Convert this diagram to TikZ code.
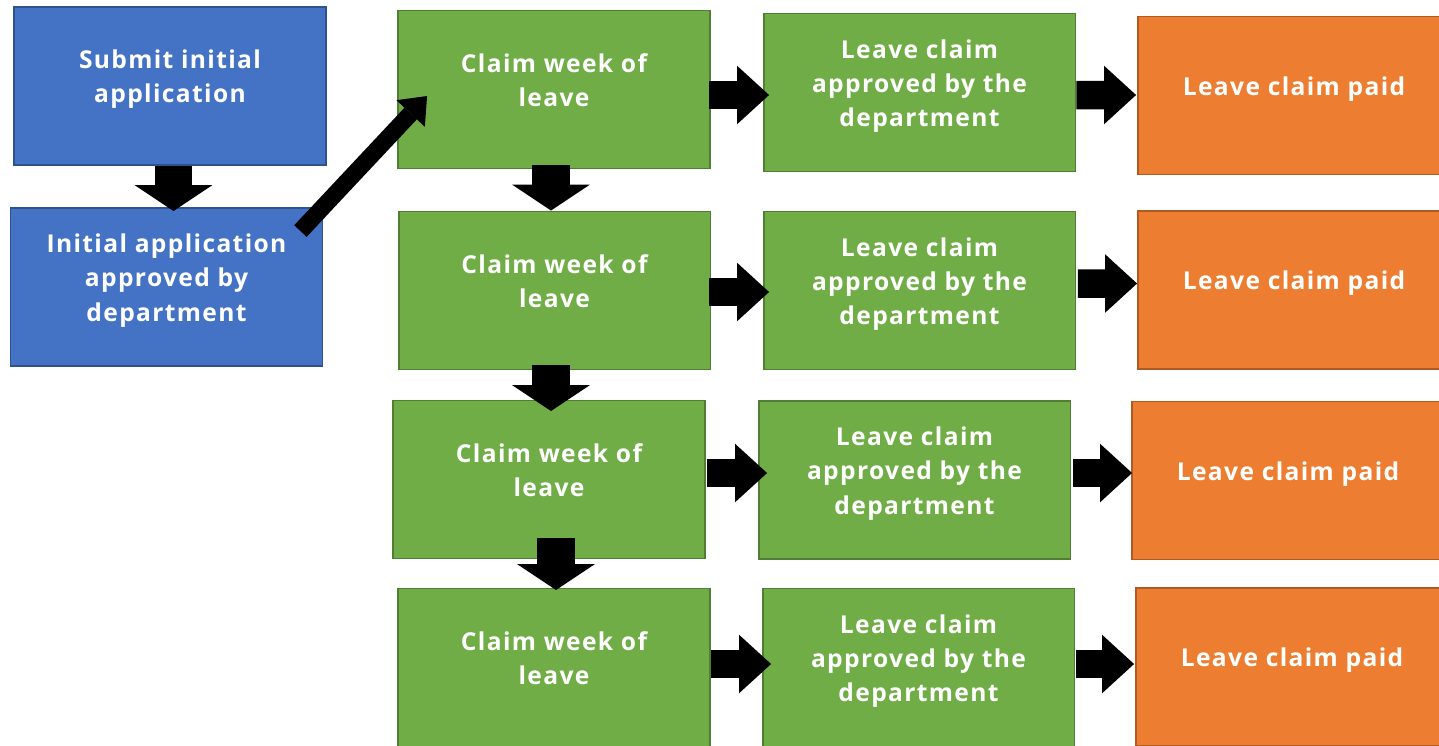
\documentclass[tikz,border=0pt]{standalone}
\usepackage{fontspec}
\setmainfont{Open Sans}[LetterSpace=5.5]
\usetikzlibrary{arrows.meta}
\definecolor{bluefill}{HTML}{4472C4}
\definecolor{blueline}{HTML}{2F528F}
\definecolor{greenfill}{HTML}{70AD47}
\definecolor{greenline}{HTML}{507E32}
\definecolor{orangefill}{HTML}{ED7D31}
\definecolor{orangeline}{HTML}{AE5A21}
\newcommand\boxtext[1]{\raisebox{4pt}[\height][\depth]{\begin{tabular}{@{}c@{}}#1\end{tabular}}}
\tikzset{
  flowbox/.style={rectangle, minimum width=6.24cm, minimum height=3.16cm, inner sep=0pt,
    line width=1.1pt, text=white, font=\fontsize{14}{19.5}\selectfont\bfseries},
  startbox/.style={flowbox, fill=bluefill, draw=blueline},
  claimbox/.style={flowbox, fill=greenfill, draw=greenline},
  paidbox/.style={flowbox, fill=orangefill, draw=orangeline},
  downarrow/.style={line width=0.76cm, -{Triangle[width=1.56cm, length=0.52cm, line width=0pt]}},
  rightarrow/.style={line width=0.57cm, -{Triangle[width=1.17cm, length=0.64cm, line width=0pt]}},
  diagarrow/.style={line width=0.34cm, -{Triangle[width=0.78cm, length=0.48cm, line width=0pt]}}
}
\begin{document}
\begin{tikzpicture}[x=0.02cm, y=-0.02cm]
\clip (0,0) rectangle (1439,745);
\fill [white] (0,0) rectangle (1439,745);
\node [startbox] (submit) at (170,86) {\boxtext{Submit initial\\application}};
\node [startbox] (approve) at (166.5,287) {\boxtext{Initial application\\approved by\\department}};
\node [claimbox] (claim1) at (554,89.5) {\boxtext{Claim week of\\leave}};
\node [claimbox] (ok1) at (919.5,92.5) {\boxtext{Leave claim\\approved by the\\department}};
\node [paidbox] (paid1) at (1294,95.5) {\boxtext{Leave claim paid}};
\node [claimbox] (claim2) at (554.5,290.5) {\boxtext{Claim week of\\leave}};
\node [claimbox] (ok2) at (919.5,290.5) {\boxtext{Leave claim\\approved by the\\department}};
\node [paidbox] (paid2) at (1294,290) {\boxtext{Leave claim paid}};
\node [claimbox] (claim3) at (549,479.5) {\boxtext{Claim week of\\leave}};
\node [claimbox] (ok3) at (914.5,480) {\boxtext{Leave claim\\approved by the\\department}};
\node [paidbox] (paid3) at (1288,480.5) {\boxtext{Leave claim paid}};
\node [claimbox] (claim4) at (554,667.5) {\boxtext{Claim week of\\leave}};
\node [claimbox] (ok4) at (918.5,667.5) {\boxtext{Leave claim\\approved by the\\department}};
\node [paidbox] (paid4) at (1292,667) {\boxtext{Leave claim paid}};
\draw [downarrow] ([shift={(3.5,0)}]submit.south) -- ([shift={(7,4)}]approve.north);
\draw [diagarrow] ([shift={(-23,24)}]approve.north east) -- ([shift={(30,6.5)}]claim1.west);
\draw [downarrow] ([shift={(-3,-4.5)}]claim1.south) -- ([shift={(-3.5,0)}]claim2.north);
\draw [downarrow] ([shift={(-3.5,-5.5)}]claim2.south) -- ([shift={(2,11.5)}]claim3.north);
\draw [downarrow] ([shift={(7,-21.5)}]claim3.south) -- ([shift={(2,2.5)}]claim4.north);
\draw [rightarrow] ([shift={(-2,5.5)}]claim1.east) -- ([shift={(6.5,2.5)}]ok1.west);
\draw [rightarrow] ([shift={(0,2.5)}]ok1.east) -- ([shift={(-1,-0.5)}]paid1.west);
\draw [rightarrow] ([shift={(-2.5,1.5)}]claim2.east) -- ([shift={(6.5,1.5)}]ok2.west);
\draw [rightarrow] ([shift={(1.5,-7)}]ok2.east) -- ([shift={(0,-6.5)}]paid2.west);
\draw [rightarrow] ([shift={(1,-6.5)}]claim3.east) -- ([shift={(9.5,-7)}]ok3.west);
\draw [rightarrow] ([shift={(1.5,-7)}]ok3.east) -- ([shift={(1,-7.5)}]paid3.west);
\draw [rightarrow] ([shift={(0,-3.5)}]claim4.east) -- ([shift={(9.5,-3.5)}]ok4.west);
\draw [rightarrow] ([shift={(0.5,-3.5)}]ok4.east) -- ([shift={(-1,-3)}]paid4.west);
\end{tikzpicture}
\end{document}
